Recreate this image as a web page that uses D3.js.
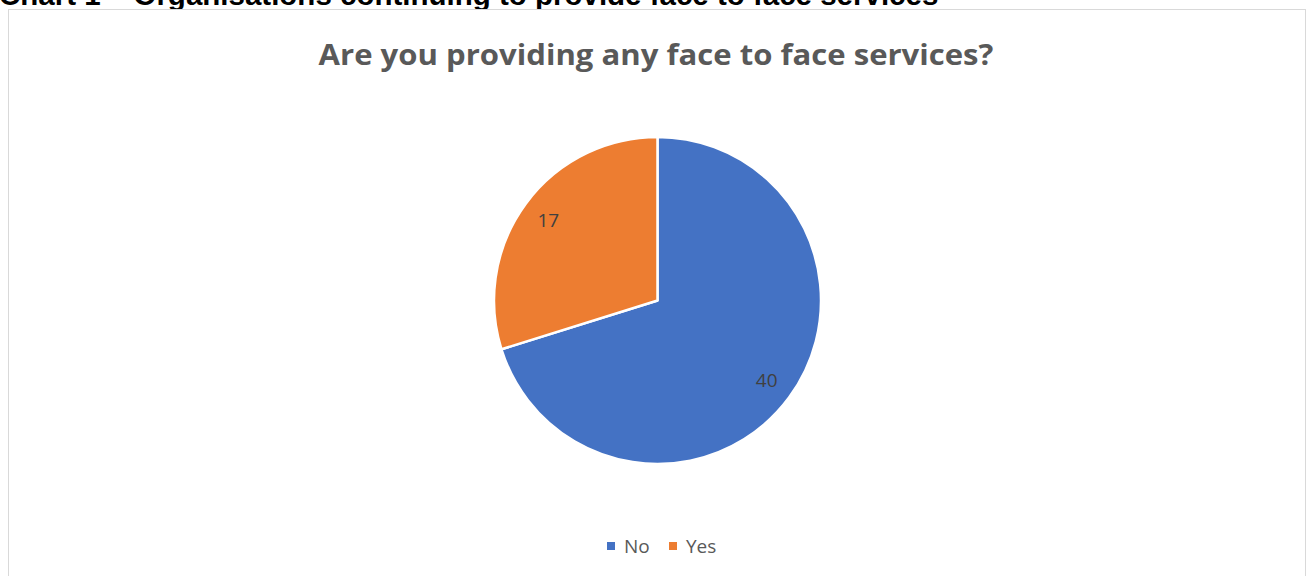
<!DOCTYPE html>
<html>
<head>
<meta charset="utf-8">
<script src="https://cdn.jsdelivr.net/npm/d3@7"></script>
<style>
  html, body { margin: 0; padding: 0; background: #fff; }
  svg { display: block; }
</style>
</head>
<body>
<svg id="chart" width="1306" height="576"></svg>
<script>
// Survey responses: organisations still providing face to face services
const categories = ["No", "Yes"];
const counts = [40, 17];
const colors = ["#4472C4", "#ED7D31"];
const caption = "Chart 1 \u2013 Organisations continuing to provide face to face services";
const title = "Are you providing any face to face services?";

const svg = d3.select("#chart");

// Report caption above the chart frame (runs off the top of the page)
svg.append("text")
  .attr("x", -1)
  .attr("y", 5)
  .attr("font-family", "Liberation Sans, Arial, sans-serif")
  .attr("font-weight", "bold")
  .attr("font-size", 29.5)
  .attr("fill", "#000")
  .text(caption);

// Chart frame
svg.append("rect")
  .attr("x", 8.5)
  .attr("y", 9.5)
  .attr("width", 1297)
  .attr("height", 600)
  .attr("fill", "#fff")
  .attr("stroke", "#d9d9d9")
  .attr("stroke-width", 1);

// Title, widened slightly to span the same width as the heading face
const titleText = svg.append("text")
  .attr("text-anchor", "middle")
  .attr("font-family", "Open Sans, sans-serif")
  .attr("font-weight", "bold")
  .attr("font-size", 28)
  .attr("fill", "#595959")
  .text(title);
const tw = titleText.node().getComputedTextLength();
titleText.attr("transform", `translate(656,65) scale(${675 / tw},1)`);

// Pie
const cx = 657.5, cy = 300.5, R = 163.5;
const data = categories.map((c, i) => ({ category: c, value: counts[i], color: colors[i] }));
const pie = d3.pie().value(d => d.value).sort(null);
const arcs = pie(data);
const arc = d3.arc().innerRadius(0).outerRadius(R);
const labelArc = d3.arc().innerRadius(271).outerRadius(0); // centroid at radius 135.5

const g = svg.append("g").attr("transform", `translate(${cx},${cy})`);
g.selectAll("path.slice")
  .data(arcs)
  .join("path")
  .attr("class", "slice")
  .attr("d", arc)
  .attr("fill", d => d.data.color)
  .attr("stroke", "#fff")
  .attr("stroke-width", 2.5)
  .attr("stroke-linejoin", "round");

g.selectAll("text.val")
  .data(arcs)
  .join("text")
  .attr("class", "val")
  .attr("transform", d => {
    const [x, y] = labelArc.centroid(d);
    return `translate(${x},${y})`;
  })
  .attr("text-anchor", "middle")
  .attr("dy", "0.35em")
  .attr("font-family", "Open Sans, sans-serif")
  .attr("font-size", 19)
  .attr("fill", "#404040")
  .text(d => d.data.value);

// Legend
const legend = svg.append("g");
const legX = [607, 669];
data.forEach((d, i) => {
  legend.append("rect")
    .attr("x", legX[i])
    .attr("y", 542)
    .attr("width", 8)
    .attr("height", 8)
    .attr("fill", d.color);
  legend.append("text")
    .attr("x", legX[i] + 17)
    .attr("y", 553)
    .attr("font-family", "Open Sans, sans-serif")
    .attr("font-size", 19)
    .attr("fill", "#595959")
    .text(d.category);
});
</script>
</body>
</html>
